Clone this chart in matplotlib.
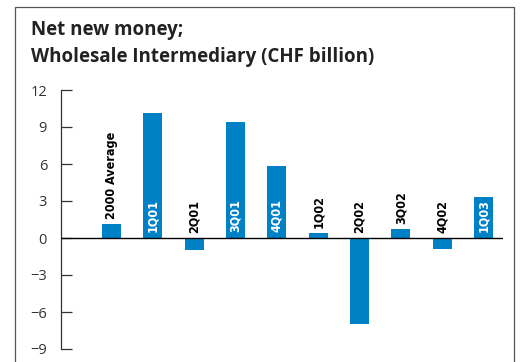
import matplotlib.pyplot as plt
from matplotlib.patches import Rectangle
from matplotlib import transforms

periods = ['2000 Average', '1Q01', '2Q01', '3Q01', '4Q01',
           '1Q02', '2Q02', '3Q02', '4Q02', '1Q03']
net_new_money = [1.1, 10.1, -1.0, 9.4, 5.8, 0.4, -7.0, 0.7, -0.9, 3.3]
yticks = [-9, -6, -3, 0, 3, 6, 9, 12]

blue = '#0081C6'
grey = '#333333'

fig = plt.figure(figsize=(5.2, 3.62), dpi=100)

# outer frame (bottom edge runs off the page)
fig.add_artist(Rectangle((15 / 520, -0.05), 499 / 520, (362 - 7) / 362 + 0.05,
                         transform=fig.transFigure, fill=False,
                         edgecolor='#555555', linewidth=0.9))

fig.text(31 / 520, 1 - 30 / 362, 'Net new money;', fontsize=13.5,
         fontweight='bold', color='#222222', va='center', family='Open Sans')
fig.text(31 / 520, 1 - 57 / 362, 'Wholesale Intermediary (CHF billion)',
         fontsize=13.5, fontweight='bold', color='#222222', va='center',
         family='Open Sans')

ax = fig.add_axes([61 / 520, 13 / 362, 442 / 520, 259 / 362])
x = list(range(len(periods)))
ax.bar(x, net_new_money, width=0.46, color=blue, zorder=2)
ax.axhline(0, color='black', linewidth=1.0, zorder=3)

ax.set_xlim(-1.222, 9.47)
ax.set_ylim(-9, 12)
ax.set_yticks(yticks)
ax.set_yticklabels([str(v).replace('-', '\u2212') for v in yticks],
                   family='Open Sans')
ax.tick_params(axis='y', direction='in', length=8, width=0.9, pad=10,
               colors=grey, labelsize=10.5)
ax.set_xticks([])
for s in ['top', 'right', 'bottom']:
    ax.spines[s].set_visible(False)
ax.spines['left'].set_color(grey)
ax.spines['left'].set_linewidth(0.9)

# period names: white inside tall bars, black above the short ones
for xi, name, v in zip(x, periods, net_new_money):
    if v > 3:
        base, col, off = 0, 'white', 6
    else:
        base, col, off = max(v, 0), 'black', 5
    tr = transforms.offset_copy(ax.transData, fig=fig, x=0, y=off, units='dots')
    ax.text(xi, base, name, rotation=90, ha='center', va='bottom',
            color=col, fontsize=9, fontweight='bold', fontstretch='condensed',
            family='DejaVu Sans', transform=tr, zorder=4)

fig.savefig('out.png', dpi=100)
